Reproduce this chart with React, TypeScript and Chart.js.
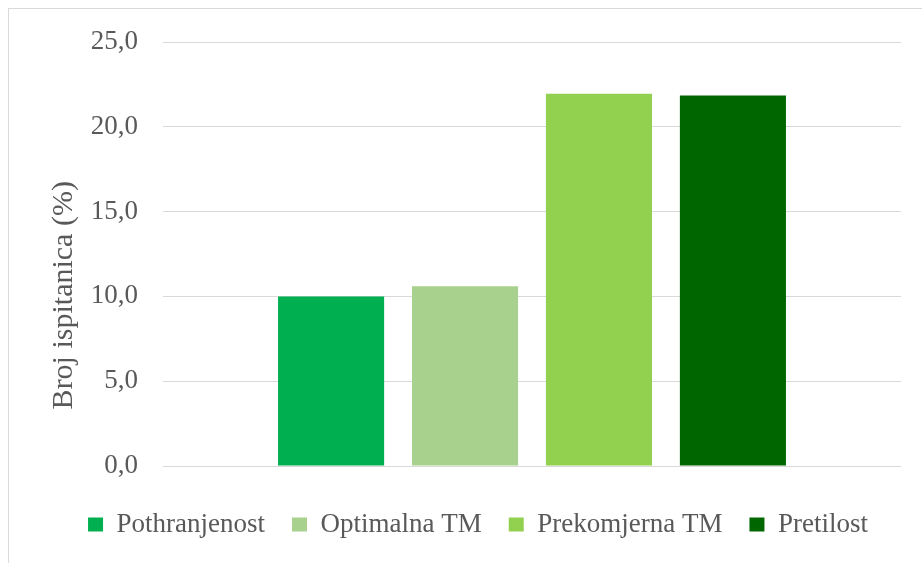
import React, { useEffect, useRef } from "react";
import { Chart, registerables } from "chart.js";

Chart.register(...registerables);

const categories = [""];
const seriesNames = ["Pothranjenost", "Optimalna TM", "Prekomjerna TM", "Pretilost"];
const seriesValues = [10.0, 10.6, 21.95, 21.85];
const seriesColors = ["#00B050", "#A9D18E", "#92D050", "#006600"];
const yTickValues = [0, 5, 10, 15, 20, 25];
const yTickLabels = ["0,0", "5,0", "10,0", "15,0", "20,0", "25,0"];
const yTitle = "Broj ispitanica (%)";

const FONT = "'Liberation Serif', 'Times New Roman', serif";
const TEXT = "#595959";

export default function App() {
  const ref = useRef<HTMLCanvasElement | null>(null);

  useEffect(() => {
    if (!ref.current) return;
    const chart = new Chart(ref.current, {
      type: "bar",
      data: {
        labels: categories,
        datasets: seriesNames.map((name, i) => ({
          label: name,
          data: [seriesValues[i]],
          backgroundColor: seriesColors[i],
          borderWidth: 0,
          categoryPercentage: 0.726,
          barPercentage: 0.792,
        })),
      },
      options: {
        animation: false,
        responsive: true,
        maintainAspectRatio: false,
        layout: { padding: { left: 46, right: 21, top: 33, bottom: 15 } },
        plugins: {
          tooltip: { enabled: false },
          legend: {
            position: "bottom",
            labels: {
              boxWidth: 15,
              boxHeight: 14,
              padding: 27,
              color: TEXT,
              font: { family: FONT, size: 27 },
            },
          },
        },
        scales: {
          x: {
            display: true,
            grid: { display: false },
            border: { display: false },
            ticks: { display: false },
            afterFit: (scale: any) => {
              scale.height = 18;
            },
          },
          y: {
            min: 0,
            max: 25,
            afterBuildTicks: (scale: any) => {
              scale.ticks = yTickValues.map((v) => ({ value: v }));
            },
            ticks: {
              padding: 25,
              color: TEXT,
              font: { family: FONT, size: 27 },
              callback: (v: any) => yTickLabels[yTickValues.indexOf(Number(v))],
            },
            grid: { color: "#d9d9d9", lineWidth: 1, drawTicks: false },
            border: { display: false },
            title: {
              display: true,
              text: yTitle + "           ",
              color: TEXT,
              font: { family: FONT, size: 30, lineHeight: 0.7 },
              padding: { top: -1, bottom: 0 },
            },
            afterFit: (scale: any) => {
              scale.width = 108;
              scale.paddingTop = 8;
              scale.paddingBottom = 8;
            },
          },
        },
      },
    });
    return () => chart.destroy();
  }, []);

  return (
    <div
      style={{
        position: "fixed",
        left: 8,
        top: 8,
        width: 913,
        height: 554,
        borderTop: "1px solid #d9d9d9",
        borderLeft: "1px solid #d9d9d9",
        background: "#fff",
      }}
    >
      <canvas ref={ref} />
    </div>
  );
}
